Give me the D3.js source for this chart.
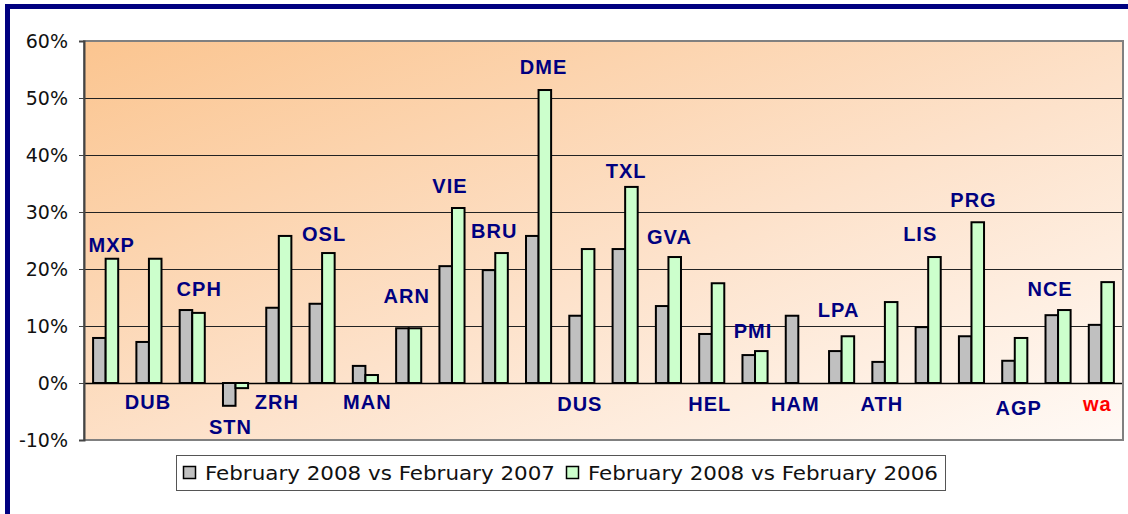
<!DOCTYPE html>
<html>
<head>
<meta charset="utf-8">
<script src="https://cdn.jsdelivr.net/npm/d3@7"></script>
<style>
  body { margin: 0; background: #fff; }
  svg { display: block; }
</style>
</head>
<body>
<div id="chart"></div>
<script>
const width = 1128,
  height = 514,
  margin = { top: 41, bottom: 74, left: 84, right: 5 };

// airports, in drawing order
const airports = ["MXP", "DUB", "CPH", "STN", "ZRH", "OSL", "MAN", "ARN", "VIE", "BRU", "DME", "DUS",
  "TXL", "GVA", "HEL", "PMI", "HAM", "LPA", "ATH", "LIS", "PRG", "AGP", "NCE", "wa"];

// % growth, Feb 2008 vs Feb 2007
const vs2007 = [7.9, 7.2, 12.8, -4.0, 13.2, 13.9, 3.0, 9.6, 20.5, 19.8, 25.8, 11.8,
  23.5, 13.5, 8.6, 4.9, 11.8, 5.6, 3.7, 9.8, 8.2, 3.9, 11.9, 10.2];

// % growth, Feb 2008 vs Feb 2006
const vs2006 = [21.8, 21.8, 12.3, -0.9, 25.8, 22.8, 1.4, 9.6, 30.7, 22.8, 51.4, 23.5,
  34.4, 22.1, 17.5, 5.6, null, 8.2, 14.2, 22.1, 28.2, 7.9, 12.8, 17.7];

// where each airport label sits, in % units on the value axis
const labelAt = [24.2, -3.3, 16.5, -7.7, -3.3, 26.1, -3.3, 15.3, 34.6, 26.7, 55.4, -3.7,
  37.2, 25.6, -3.7, 9.1, -3.7, 12.8, -3.7, 26.1, 32.1, -4.4, 16.5, -3.7];
const labelShift = [6, -1, 7, -5, -2, 2, 2, -2, -2, -1, 5, -2, 1, 1, -2, -2, -3, -3, -3, -8, 2, 4, -8, -4];

const yTicks = [-10, 0, 10, 20, 30, 40, 50, 60];
const seriesNames = ["February 2008 vs February 2007", "February 2008 vs February 2006"];
const seriesColors = ["#c0c0c0", "#ccffcc"];

const svg = d3.select("#chart")
  .append("svg")
  .attr("width", width)
  .attr("height", height);

// outer frame
svg.append("rect")
  .attr("x", 7.5).attr("y", 6.5)
  .attr("width", width + 20).attr("height", height + 20)
  .attr("fill", "none")
  .attr("stroke", "#000080")
  .attr("stroke-width", 5);

const defs = svg.append("defs");
const grad = defs.append("linearGradient")
  .attr("id", "bg")
  .attr("x1", "0").attr("y1", "0")
  .attr("x2", "1").attr("y2", "1");
grad.append("stop").attr("offset", "0%").attr("stop-color", "#fbc590");
grad.append("stop").attr("offset", "55%").attr("stop-color", "#fde2cb");
grad.append("stop").attr("offset", "100%").attr("stop-color", "#fffaf6");

const x0 = d3.scaleBand()
  .domain(airports)
  .range([margin.left, width - margin.right])
  .paddingInner(0.42)
  .paddingOuter(0.21);

const x1 = d3.scaleBand()
  .domain([0, 1])
  .range([0, x0.bandwidth()]);

const y = d3.scaleLinear()
  .domain([-10, 60])
  .range([height - margin.bottom, margin.top]);

const plotW = width - margin.right - margin.left;

svg.append("rect")
  .attr("x", margin.left)
  .attr("y", margin.top)
  .attr("width", plotW)
  .attr("height", y(-10) - y(60))
  .attr("fill", "url(#bg)");

// gridlines
svg.append("g")
  .selectAll("line")
  .data(yTicks.filter(d => d > -10 && d < 60))
  .join("line")
  .attr("x1", margin.left)
  .attr("x2", width - margin.right)
  .attr("y1", d => Math.round(y(d)) + 0.5)
  .attr("y2", d => Math.round(y(d)) + 0.5)
  .attr("stroke", d => d === 0 ? "#000" : "#222")
  .attr("stroke-width", d => d === 0 ? 1.5 : 1);

// plot border
svg.append("rect")
  .attr("x", margin.left)
  .attr("y", margin.top)
  .attr("width", plotW)
  .attr("height", y(-10) - y(60))
  .attr("fill", "none")
  .attr("stroke", "#808080")
  .attr("stroke-width", 2);

const yAxis = d3.axisLeft(y)
  .tickValues(yTicks)
  .tickSize(5)
  .tickFormat(d => d + "%");

svg.append("g")
  .attr("transform", `translate(${margin.left},0)`)
  .call(yAxis)
  .call(g => g.select(".domain").attr("stroke", "#444").attr("stroke-width", 2))
  .call(g => g.selectAll(".tick line").attr("stroke", "#444"))
  .call(g => g.selectAll(".tick text")
    .attr("x", -16)
    .attr("font-family", "DejaVu Sans, Verdana, sans-serif")
    .attr("font-size", 19)
    .attr("fill", "#111"));

// bars
const series = [vs2007, vs2006];
const bars = [];
airports.forEach((a, i) => {
  series.forEach((s, k) => {
    if (s[i] !== null) bars.push({ airport: a, k: k, value: s[i] });
  });
});

svg.append("g")
  .selectAll("rect")
  .data(bars)
  .join("rect")
  .attr("x", d => x0(d.airport) + x1(d.k))
  .attr("y", d => y(Math.max(0, d.value)))
  .attr("width", x1.bandwidth())
  .attr("height", d => Math.abs(y(d.value) - y(0)))
  .attr("fill", d => seriesColors[d.k])
  .attr("stroke", "#000")
  .attr("stroke-width", 2);

// airport labels
svg.append("g")
  .selectAll("text")
  .data(airports)
  .join("text")
  .attr("x", (d, i) => x0(d) + x0.bandwidth() / 2 + labelShift[i])
  .attr("y", (d, i) => y(labelAt[i]))
  .attr("dy", "0.36em")
  .attr("text-anchor", "middle")
  .attr("font-family", "Liberation Sans, Arial, sans-serif")
  .attr("font-weight", "bold")
  .attr("font-size", 20)
  .attr("letter-spacing", 1)
  .attr("fill", d => d === "wa" ? "#ff0000" : "#000080")
  .text(d => d);

// legend
const legend = svg.append("g");
legend.append("rect")
  .attr("x", 176.5).attr("y", 455.5)
  .attr("width", 769).attr("height", 35)
  .attr("fill", "#fff")
  .attr("stroke", "#555")
  .attr("stroke-width", 1);

const legendX = [183, 566];
seriesNames.forEach((name, k) => {
  legend.append("rect")
    .attr("x", legendX[k] + 0.5).attr("y", 466.5)
    .attr("width", 12).attr("height", 12)
    .attr("fill", seriesColors[k])
    .attr("stroke", "#000")
    .attr("stroke-width", 1.5);
  legend.append("text")
    .attr("x", legendX[k] + 22)
    .attr("y", 480)
    .attr("font-family", "DejaVu Sans Condensed, DejaVu Sans, sans-serif")
    .attr("font-size", 19)
    .attr("textLength", 350)
    .attr("lengthAdjust", "spacingAndGlyphs")
    .attr("fill", "#111")
    .text(name);
});
</script>
</body>
</html>
